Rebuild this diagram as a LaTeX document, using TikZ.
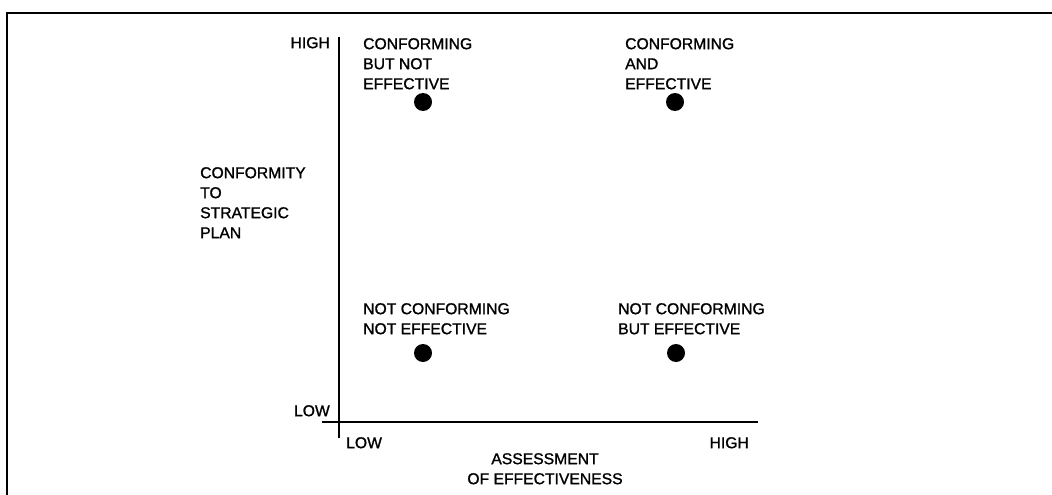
\documentclass[tikz,border=0pt]{standalone}
\usepackage{fontspec}
\newfontfamily\labelfont{Liberation Sans}[FakeBold=1.2]
\usepackage{tikz}
\usetikzlibrary{
arrows.meta,
positioning
}

\begin{document}
\begin{tikzpicture}[
x=1pt,y=-1pt,
label/.style={
inner sep=0pt,
align=left,
font=\labelfont\fontsize{15.7}{20}\selectfont
},
quadrant/.style={label,anchor=north west},
dot/.style={
circle,
fill=black,
inner sep=0pt,
minimum size=18pt
},
axis/.style={line width=1.3pt},
frame/.style={line width=2pt}
]

\useasboundingbox (0,0) rectangle (1052,495);

% frame
\draw[frame] (7,495) -- (7,13) -- (1052,13);

% axes
\coordinate (ytop) at (339,37);
\coordinate (ybot) at (339,438);
\coordinate (xleft) at (322,422);
\coordinate (xright) at (758,422);
\draw[axis] (ytop) -- (ybot);
\draw[axis] (xleft) -- (xright);

% axis labels
\node[label,anchor=north east] (yhigh) at (330,37) {HIGH};
\node[label,anchor=north east] (ylow) at (330,405) {LOW};
\node[label,anchor=north west] (xlow) at (346,437) {LOW};
\node[label,anchor=north east] (xhigh) at (749,437) {HIGH};
\node[label,anchor=north west] (ytitle) at (200,167) {CONFORMITY\\TO\\STRATEGIC\\PLAN};
\node[label,anchor=north,align=center] (xtitle) at (545,453) {ASSESSMENT\\OF EFFECTIVENESS};

% quadrants
\node[quadrant] (cnotE) at (363,38) {CONFORMING\\BUT NOT\\EFFECTIVE};
\node[quadrant] (candE) at (625,38) {CONFORMING\\AND\\EFFECTIVE};
\node[quadrant] (ncnotE) at (363,303) {NOT CONFORMING\\NOT EFFECTIVE};
\node[quadrant] (ncbutE) at (618,303) {NOT CONFORMING\\BUT EFFECTIVE};

\node[dot] (cnotEdot) at (423,102) {};
\node[dot] (candEdot) at (675,102) {};
\node[dot] (ncnotEdot) at (423,353) {};
\node[dot] (ncbutEdot) at (676,353) {};

\end{tikzpicture}
\end{document}
